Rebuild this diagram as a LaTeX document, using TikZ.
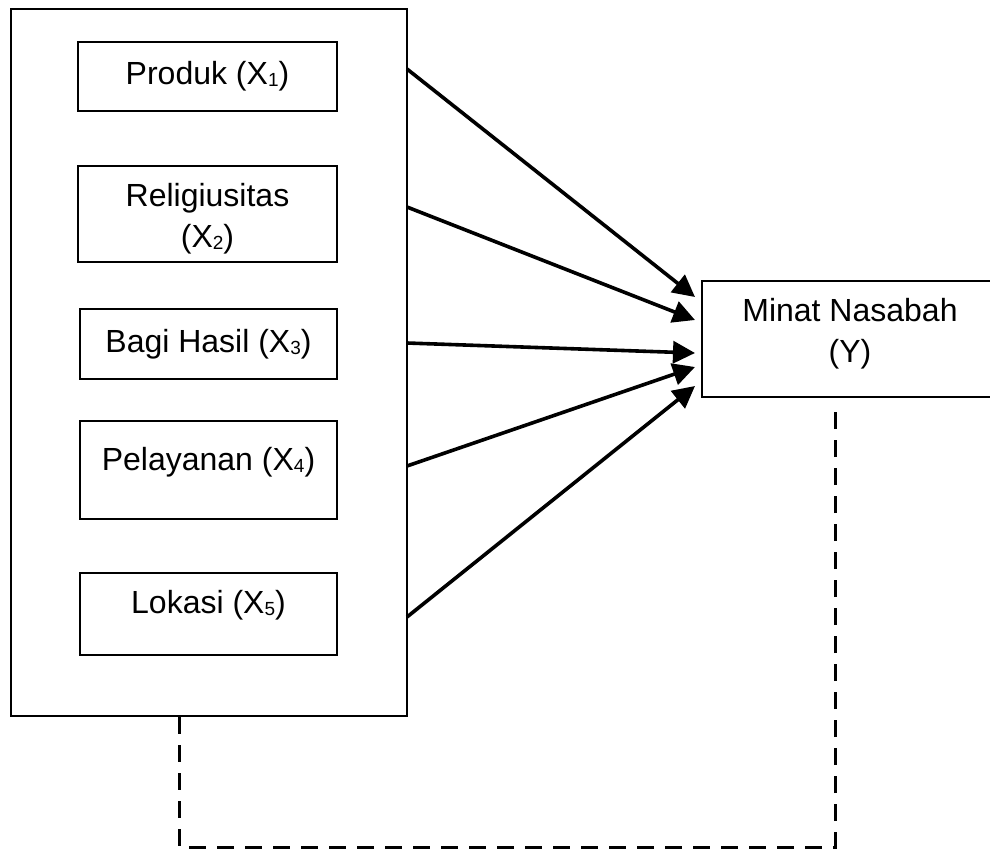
\documentclass[tikz,border=0pt]{standalone}
\usepackage{fontspec}
\setmainfont{Liberation Sans}
\usetikzlibrary{arrows.meta}
\newcommand\xsub[1]{\raisebox{-2pt}{\fontsize{19}{19}\selectfont #1}}
\begin{document}
\begin{tikzpicture}[x=1pt,y=-1pt,
  boxstyle/.style={draw=black, line width=2.6pt, inner sep=0pt, outer sep=0pt, align=center,
    font=\fontsize{32}{41}\selectfont, fill=white},
  arr/.style={line width=3.6pt, -{Triangle[length=22pt,width=22pt]}},
  dashline/.style={line width=3pt, dash pattern=on 17pt off 11pt}]
\useasboundingbox (0,0) rectangle (990,849);
\fill[white] (0,0) rectangle (990,849);

\node[boxstyle, minimum width=396pt, minimum height=707pt] (outer) at (209,362.5) {};
\node[boxstyle, minimum width=259pt, minimum height=69pt] (x1) at (207.5,76.5) {Produk (X\xsub{1})};
\node[boxstyle, minimum width=259pt, minimum height=96pt, text height=73pt] (x2) at (207.5,214) {Religiusitas\\(X\xsub{2})};
\node[boxstyle, minimum width=257pt, minimum height=70pt] (x3) at (208.5,344) {Bagi Hasil (X\xsub{3})};
\node[boxstyle, minimum width=257pt, minimum height=98pt, text height=23.3pt, text depth=23pt] (x4) at (208.5,470) {Pelayanan (X\xsub{4})};
\node[boxstyle, minimum width=257pt, minimum height=82pt, text height=23.3pt, text depth=24pt] (x5) at (208.5,614) {Lokasi (X\xsub{5})};
\node[boxstyle, minimum width=296pt, minimum height=116pt, text depth=16.8pt] (y) at (850,339) {Minat Nasabah\\(Y)};

\coordinate (s1) at (407,69);
\coordinate (s2) at (407,207);
\coordinate (s3) at (407,343);
\coordinate (s4) at (407,466);
\coordinate (s5) at (407,617);
\coordinate (t1) at (695,297);
\coordinate (t2) at (695,320);
\coordinate (t3) at (695,353);
\coordinate (t4) at (695,367);
\coordinate (t5) at (695,386);
\draw[arr] (s1) -- (t1);
\draw[arr] (s2) -- (t2);
\draw[arr] (s3) -- (t3);
\draw[arr] (s4) -- (t4);
\draw[arr] (s5) -- (t5);

\coordinate (d1) at (179,717);
\coordinate (d2) at (179,847);
\coordinate (d3) at (835,847);
\coordinate (d4) at (835,410);
\draw[dashline] (d1) -- (d2) -- (d3) -- (d4);
\end{tikzpicture}
\end{document}
